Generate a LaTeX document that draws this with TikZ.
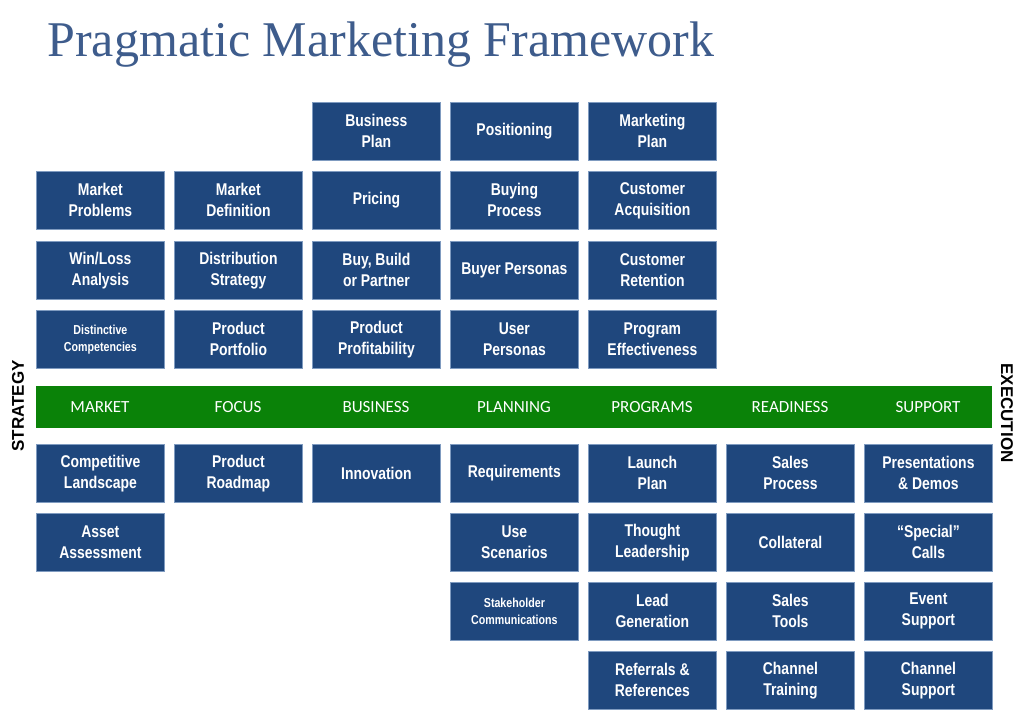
\documentclass[tikz,border=0pt]{standalone}
\usepackage{fontspec}
\setmainfont{Liberation Serif}
\newfontfamily\boxfont[FakeStretch=0.82]{Liberation Sans}
\newfontfamily\barfont{Carlito}
\newfontfamily\sidefont{Liberation Sans}
\definecolor{boxblue}{HTML}{1F477D}
\definecolor{boxedge}{HTML}{7F9BC0}
\definecolor{bargreen}{HTML}{0A8208}
\definecolor{titleblue}{HTML}{3E5C8C}
\begin{document}
\begin{tikzpicture}[x=1pt,y=-1pt,
 cell/.style={draw=boxedge,line width=0.8pt,fill=boxblue,text=white,minimum width=128pt,minimum height=58pt,inner sep=1pt,align=center,anchor=north west,font=\boxfont\bfseries\fontsize{17}{21}\selectfont},
 small/.style={font=\boxfont\bfseries\fontsize{13}{17}\selectfont},
 bar/.style={text=white,font=\barfont\fontsize{17}{20}\selectfont}]
\useasboundingbox (0,0) rectangle (1024,714);
\node[text=titleblue,font=\fontsize{50}{56}\selectfont,anchor=west] (title) at (44,45) {Pragmatic Marketing Framework};
\node[fill=bargreen,minimum width=956pt,minimum height=42pt,anchor=north west,inner sep=0pt] (barbox) at (36,386) {};
\foreach \t [count=\i from 0] in {MARKET,FOCUS,BUSINESS,PLANNING,PROGRAMS,READINESS,SUPPORT}
  \node[bar] (bar\i) at (100+138*\i,407) {\t};
\node[rotate=90,font=\sidefont\bfseries\fontsize{17}{20}\selectfont] (strategy) at (18,406) {STRATEGY};
\node[rotate=-90,font=\sidefont\bfseries\fontsize{17}{20}\selectfont] (execution) at (1007,413) {EXECUTION};
% upper
\node[cell] (bp) at (312,102) {Business\\Plan};
\node[cell] (pos) at (450,102) {Positioning};
\node[cell] (mp) at (588,102) {Marketing\\Plan};
\node[cell] (mpr) at (36,171) {Market\\Problems};
\node[cell] (md) at (174,171) {Market\\Definition};
\node[cell] (pr) at (312,171) {Pricing};
\node[cell] (byp) at (450,171) {Buying\\Process};
\node[cell] (ca) at (588,171) {Customer\\Acquisition};
\node[cell] (wl) at (36,241) {Win/Loss\\Analysis};
\node[cell] (ds) at (174,241) {Distribution\\Strategy};
\node[cell] (bbp) at (312,241) {Buy, Build\\or Partner};
\node[cell] (bpe) at (450,241) {Buyer Personas};
\node[cell] (cr) at (588,241) {Customer\\Retention};
\node[cell,small] (dc) at (36,310) {Distinctive\\Competencies};
\node[cell] (pp) at (174,310) {Product\\Portfolio};
\node[cell] (ppr) at (312,310) {Product\\Profitability};
\node[cell] (up) at (450,310) {User\\Personas};
\node[cell] (pe) at (588,310) {Program\\Effectiveness};
% lower
\node[cell] (cl) at (36,444) {Competitive\\Landscape};
\node[cell] (prm) at (174,444) {Product\\Roadmap};
\node[cell] (inn) at (312,444) {Innovation};
\node[cell] (req) at (450,444) {Requirements};
\node[cell] (lp) at (588,444) {Launch\\Plan};
\node[cell] (sp) at (726,444) {Sales\\Process};
\node[cell] (pd) at (864,444) {Presentations\\\& Demos};
\node[cell] (aa) at (36,513) {Asset\\Assessment};
\node[cell] (us) at (450,513) {Use\\Scenarios};
\node[cell] (tl) at (588,513) {Thought\\Leadership};
\node[cell] (col) at (726,513) {Collateral};
\node[cell] (sc) at (864,513) {“Special”\\Calls};
\node[cell,small] (stc) at (450,582) {Stakeholder\\Communications};
\node[cell] (lg) at (588,582) {Lead\\Generation};
\node[cell] (st) at (726,582) {Sales\\Tools};
\node[cell] (es) at (864,582) {Event\\Support};
\node[cell] (rr) at (588,651) {Referrals \&\\References};
\node[cell] (ct) at (726,651) {Channel\\Training};
\node[cell] (cs) at (864,651) {Channel\\Support};
\end{tikzpicture}
\end{document}
